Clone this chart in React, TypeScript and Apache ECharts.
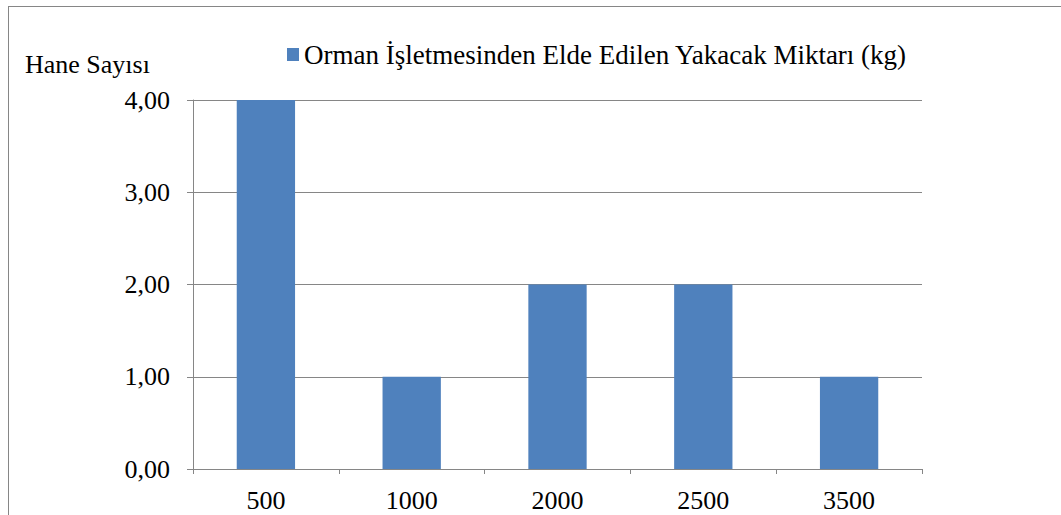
import React, { useEffect, useRef } from "react";
import * as echarts from "echarts";

const categories = ["500", "1000", "2000", "2500", "3500"];
const values = [4, 1, 2, 2, 1];
const seriesName = "Orman İşletmesinden Elde Edilen Yakacak Miktarı (kg)";
const yAxisTitle = "Hane Sayısı";

export default function App() {
  const ref = useRef<HTMLDivElement>(null);
  useEffect(() => {
    document.body.style.margin = "0";
    const chart = echarts.init(ref.current!, null, { renderer: "svg" });
    const font = "Liberation Serif";
    const axisColor = "#868686";
    chart.setOption({
      animation: false,
      backgroundColor: "#ffffff",
      textStyle: { fontFamily: font },
      grid: { left: 193, right: 139, top: 100, bottom: 46 },
      legend: {
        left: 287,
        top: 41,
        padding: 0,
        itemWidth: 12,
        itemHeight: 13,
        icon: "rect",
        data: [seriesName],
        textStyle: { fontFamily: font, fontSize: 27, color: "#000" },
      },
      xAxis: {
        type: "category",
        data: categories,
        boundaryGap: true,
        axisLine: { lineStyle: { color: axisColor, width: 1 } },
        axisTick: { show: true, length: 5, lineStyle: { color: axisColor } },
        axisLabel: { fontFamily: font, fontSize: 26, color: "#000", margin: 18 },
      },
      yAxis: {
        type: "value",
        min: 0,
        max: 4,
        interval: 1,
        axisLine: { show: true, lineStyle: { color: axisColor, width: 1 } },
        axisTick: { show: true, length: 6, lineStyle: { color: axisColor } },
        splitLine: { lineStyle: { color: axisColor, width: 1 } },
        axisLabel: {
          fontFamily: font,
          fontSize: 26,
          color: "#000",
          margin: 23,
          formatter: (v: number) => v.toFixed(2).replace(".", ","),
        },
      },
      graphic: [
        { type: "line", shape: { x1: 8, y1: 6.5, x2: 1061, y2: 6.5 }, style: { stroke: "#868686", lineWidth: 1 } },
        { type: "line", shape: { x1: 8.5, y1: 6, x2: 8.5, y2: 515 }, style: { stroke: "#868686", lineWidth: 1 } },
        {
          type: "text",
          left: 25,
          top: 51,
          style: { text: yAxisTitle, fontFamily: font, fontSize: 26, fill: "#000" },
        },
      ],
      series: [
        {
          name: seriesName,
          type: "bar",
          data: values,
          barWidth: "40%",
          itemStyle: { color: "#4F81BD" },
        },
      ],
    });
    return () => chart.dispose();
  }, []);
  return <div ref={ref} style={{ width: 1061, height: 515 }} />;
}
